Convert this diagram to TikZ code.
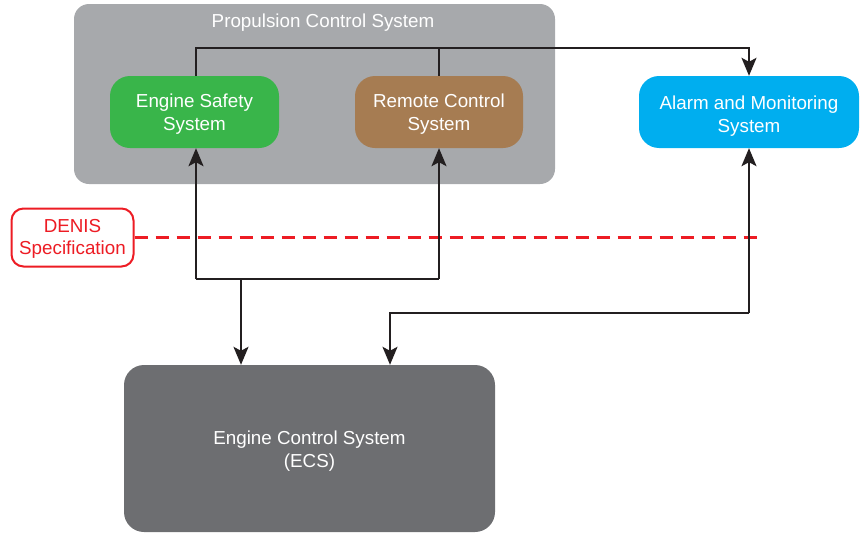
\documentclass[tikz,border=0pt]{standalone}
\usepackage{fontspec}
\setmainfont{Liberation Sans}
\usetikzlibrary{arrows.meta,calc}
\definecolor{pcsgray}{HTML}{A7A9AC}
\definecolor{essgreen}{HTML}{39B54A}
\definecolor{rcsbrown}{HTML}{A67C52}
\definecolor{amscyan}{HTML}{00AEEF}
\definecolor{ecsgray}{HTML}{6D6E71}
\definecolor{denisred}{HTML}{ED1C24}
\definecolor{linecol}{HTML}{231F20}
\begin{document}
\begin{tikzpicture}[x=1pt,y=-1pt,
  txt/.style={font=\fontsize{18.8}{23}\selectfont, align=center, text=white, inner sep=0pt},
  sysbox/.style={rectangle, rounded corners=20pt, inner sep=0pt},
  conn/.style={draw=linecol, line width=2pt},
  arr/.style={conn, -{Stealth[length=18pt,width=15pt,inset=4pt]}}]
\useasboundingbox (0,0) rectangle (860,533);
% propulsion container
\node[rectangle, rounded corners=15pt, fill=pcsgray, minimum width=481pt, minimum height=180pt, inner sep=0pt] (pcs) at (314.5,94) {};
\node[txt] (pcstitle) at (323,23) {Propulsion Control System};
% boxes
\node[sysbox, fill=essgreen, minimum width=169pt, minimum height=72pt] (ess) at (194.5,112) {};
\node[txt] (esst) at ($(ess.center)+(0,2.5)$) {Engine Safety\\System};
\node[sysbox, fill=rcsbrown, minimum width=168pt, minimum height=72pt] (rcs) at (439,112) {};
\node[txt] (rcst) at ($(rcs.center)+(0,2.5)$) {Remote Control\\System};
\node[sysbox, fill=amscyan, minimum width=220pt, minimum height=72pt] (ams) at (749,112) {};
\node[txt] (amst) at ($(ams.center)+(0,4.5)$) {Alarm and Monitoring\\System};
\node[sysbox, fill=ecsgray, minimum width=371pt, minimum height=167pt] (ecs) at (309.5,448.5) {};
\node[txt] (ecst) at ($(ecs.center)+(0,3)$) {Engine Control System\\(ECS)};
\node[rectangle, rounded corners=12pt, draw=denisred, line width=2pt, fill=white, minimum width=122pt, minimum height=58pt, inner sep=0pt] (denis) at (72.5,237.5) {};
\node[txt, text=denisred, font=\fontsize{18.8}{22}\selectfont] (denist) at ($(denis.center)+(0,1.5)$) {DENIS\\Specification};
% red dashed line
\coordinate (dend) at (760,237);
\draw[denisred, line width=2.4pt, dash pattern=on 13pt off 8pt] (denis.east) -- (denis.east -| dend);
% top bus
\coordinate (t1) at ($(ess.north)+(1.5,-28)$);
\draw[arr] (ess.north -| t1) -- (t1) -- (t1 -| ams.north) -- (ams.north);
\draw[conn] (rcs.north) -- (rcs.north |- t1);
% lower bus
\coordinate (jl) at ($(ess.south)+(1.5,131)$);
\coordinate (jr) at (rcs.south |- jl);
\draw[arr] (jl) -- (ess.south -| jl);
\draw[arr] (jr) -- (rcs.south);
\draw[conn] (jl) -- (jr);
\coordinate (d1) at (241,279);
\draw[arr] (d1) -- (d1 |- ecs.north);
\coordinate (a1) at (ams.south |- 0,313);
\coordinate (a2) at (390,313);
\draw[arr] (a1) -- (ams.south);
\draw[arr] (a1) -- (a2) -- (a2 |- ecs.north);
\end{tikzpicture}
\end{document}
